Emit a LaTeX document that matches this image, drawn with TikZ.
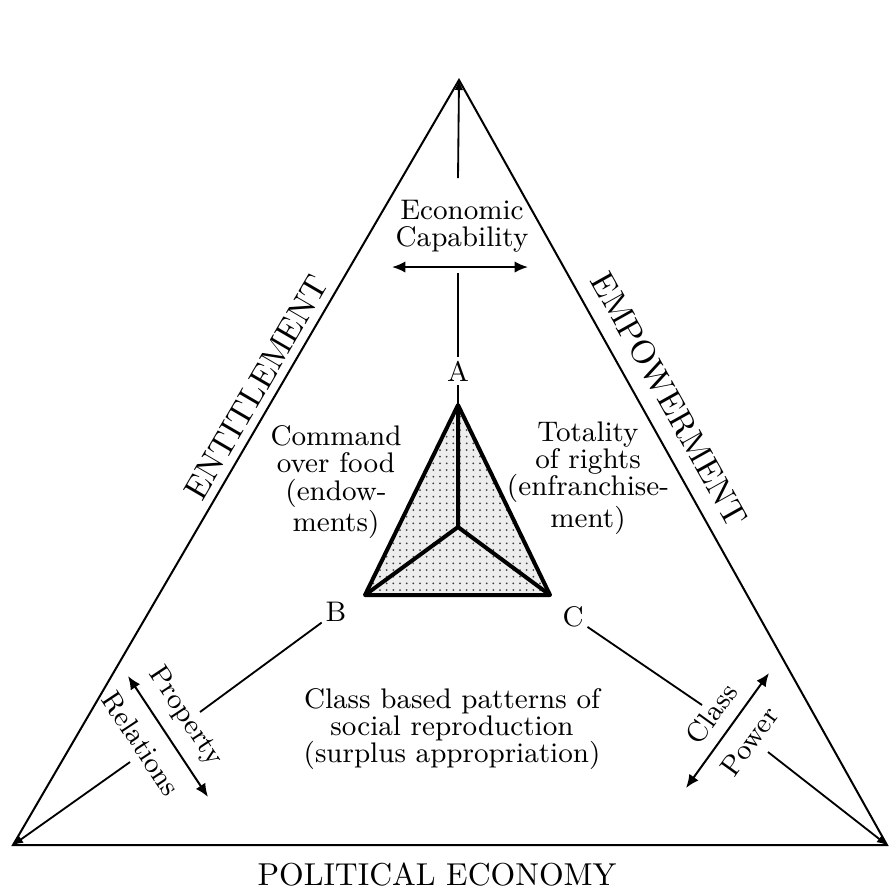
\documentclass[tikz,border=0pt]{standalone}
\usepackage{tikz}
\usetikzlibrary{arrows.meta,positioning,calc,patterns.meta}
\tikzset{
  >={Latex[length=4pt,width=3.4pt]},
  edgeline/.style={line width=0.6pt,draw=black,line join=miter},
  innerline/.style={line width=1.2pt,draw=black,line join=round},
  linkline/.style={line width=0.55pt,draw=black},
  twoway/.style={<->,line width=0.6pt,draw=black},
  cornertip/.style={-{Latex[length=3pt,width=2.6pt]},line width=0.55pt,draw=black},
  sidelabel/.style={font=\fontsize{10}{12}\selectfont,sloped,inner sep=1.5pt},
  bodytext/.style={font=\fontsize{8.5}{8.2}\selectfont,align=center,inner sep=1pt},
  vertexlabel/.style={font=\fontsize{8.5}{10}\selectfont,inner sep=1pt},
}
\begin{document}
\begin{tikzpicture}[x=0.3pt,y=-0.3pt]
  \useasboundingbox (0,0) rectangle (891,890);
  % outer triangle
  \coordinate (top) at (459,80);
  \coordinate (left) at (13,845);
  \coordinate (right) at (887,845);
  \draw[edgeline] (left) -- (right) -- (top) -- cycle;
  \path (left) -- node[sidelabel,above=1pt,pos=0.585] (entitle) {ENTITLEMENT} (top);
  \path (top) -- node[sidelabel,above=3pt,pos=0.435] (empower) {EMPOWERMENT} (right);
  \node[font=\fontsize{9.5}{11}\selectfont] (polecon) at (437,874) {POLITICAL ECONOMY};
  % inner stippled triangle with its three spokes
  \coordinate (A) at (458,405);
  \coordinate (B) at (365,595);
  \coordinate (C) at (550,595);
  \coordinate (mid) at (458,527);
  \draw[innerline, preaction={fill=black!7}, pattern={Dots[distance=2pt,radius=0.3pt]},
        pattern color=black!75] (A) -- (B) -- (C) -- cycle;
  \draw[innerline] (mid) -- (A) (mid) -- (B) (mid) -- (C);
  \node[vertexlabel] (lblA) at (458,371) {A};
  \node[vertexlabel] (lblB) at (336,612) {B};
  \node[vertexlabel] (lblC) at (573,617) {C};
  % the three fields round the inner triangle
  \node[bodytext] (command) at (336,482) {Command\\over food\\(endow-\\ments)};
  \node[bodytext] (totality) at (588,478) {Totality\\of rights\\(enfranchise-\\ment)};
  \node[bodytext] (classpat) at (452,729) {Class based patterns of\\social reproduction\\(surplus appropriation)};
  % A up to the apex
  \node[bodytext] (econ) at (462,226) {Economic\\Capability};
  \coordinate (stemtop) at (458,178);
  \coordinate (stembot) at (458,273);
  \coordinate (econL) at (392,267);
  \coordinate (econR) at (528,267);
  \draw[twoway] (econL) -- (econR);
  \draw[cornertip] (stemtop) -- (top);
  \draw[linkline] (stembot) -- (lblA.north);
  \draw[linkline] (lblA.south) -- (A);
  % B down to the left corner
  \coordinate (propTop) at (200,712);
  \coordinate (propBot) at (130,762);
  \coordinate (pr1) at (128,676);
  \coordinate (pr2) at (208,797);
  \draw[linkline] (lblB) -- (propTop);
  \draw[twoway] (pr1) -- node[bodytext,sloped,above=2.5pt,pos=0.45] (property) {Property}
    node[bodytext,sloped,below=3.5pt,pos=0.44] (relations) {Relations} (pr2);
  \draw[cornertip] (propBot) -- (left);
  % C down to the right corner
  \coordinate (clsTop) at (702,705);
  \coordinate (clsBot) at (768,752);
  \coordinate (cp1) at (686,788);
  \coordinate (cp2) at (769,673);
  \draw[linkline] (lblC) -- (clsTop);
  \draw[twoway] (cp1) -- node[bodytext,sloped,above=2.5pt,pos=0.53] (class) {Class}
    node[bodytext,sloped,below=3pt,pos=0.53] (power) {Power} (cp2);
  \draw[cornertip] (clsBot) -- (right);
\end{tikzpicture}
\end{document}
